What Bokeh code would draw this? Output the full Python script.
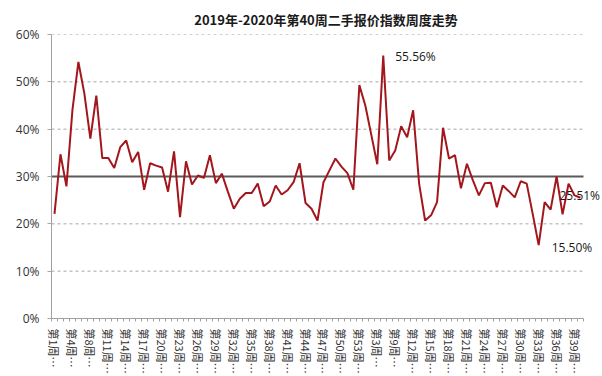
import numpy as np
from bokeh.plotting import figure
from bokeh.models import (Range1d, FixedTicker, PrintfTickFormatter, Label,
                          ColumnDataSource)
from bokeh.embed import file_html
from bokeh.resources import INLINE

# ---- data ----
weeks_2019 = [1, 2, 3, 4, 5] + list(range(7, 54))
weeks_2020 = [1, 2, 3, 4, 8] + list(range(9, 41))
index_values = [
    22.1, 34.7, 27.9, 44.0, 54.2, 47.5, 38.0, 47.1, 33.9, 33.9,
    31.8, 36.2, 37.6, 33.0, 35.2, 27.2, 32.8, 32.3, 31.9, 26.8,
    35.3, 21.4, 33.2, 28.3, 30.2, 29.7, 34.5, 28.6, 30.6, 26.8,
    23.2, 25.3, 26.5, 26.5, 28.5, 23.7, 24.7, 28.1, 26.2, 27.1,
    28.8, 32.8, 24.4, 23.2, 20.7, 28.8, 31.3, 33.8, 32.1, 30.7,
    27.2, 49.3, 45.0, 38.8, 32.6, 55.56, 33.4, 35.5, 40.6, 38.3,
    44.0, 28.5, 20.7, 21.8, 24.6, 40.3, 33.8, 34.5, 27.5, 32.7,
    29.2, 26.0, 28.6, 28.7, 23.5, 28.1, 26.9, 25.6, 29.0, 28.5,
    22.1, 15.50, 24.6, 23.0, 30.0, 22.0, 28.5, 26.0, 25.51,
]
reference_level = 30
y_ticks = [0, 10, 20, 30, 40, 50, 60]
title_text = "2019年-2020年第40周二手报价指数周度走势"

weeks_all = weeks_2019 + weeks_2020
n = len(index_values)
xs = list(range(n))
week_labels = {i: f"第{weeks_all[i]}周…" for i in range(0, n, 3)}

CJK = "Noto Sans CJK SC"
LINE_RED = "#A3161C"
GRID = "#a6a6a6"

# category span is 532 px wide; frame extends 17 px further right so that
# the end-of-series label is not clipped
unit_px = 532 / n
x_end = n - 0.5 + 17 / unit_px

p = figure(frame_width=549, frame_height=284, output_backend="svg",
           toolbar_location=None,
           x_range=Range1d(-0.5, x_end), y_range=Range1d(0, 60),
           min_border_left=51, min_border_right=2, min_border_top=34,
           min_border_bottom=58, background_fill_color="white",
           border_fill_color="white")
p.outline_line_color = None

p.title.text = title_text
p.title.align = "center"
p.title.text_font = CJK
p.title.text_font_size = "13px"
p.title.text_font_style = "bold"
p.title.text_color = "#1a1a1a"
p.title.offset = -25
p.title.standoff = 12

# y axis
p.yaxis.ticker = FixedTicker(ticks=y_ticks)
p.yaxis.formatter = PrintfTickFormatter(format="%d%%")
p.yaxis.axis_line_color = "#a0a0a0"
p.yaxis.major_tick_line_color = GRID
p.yaxis.major_tick_in = 0
p.yaxis.major_tick_out = 4
p.yaxis.minor_tick_line_color = None
p.yaxis.major_label_text_font = "Open Sans"
p.yaxis.major_label_text_font_size = "12px"
p.yaxis.major_label_text_color = "#333333"
p.yaxis.major_label_standoff = 8

# x axis
boundaries = [i - 0.5 for i in range(n + 1)]
p.xaxis.ticker = FixedTicker(ticks=list(week_labels.keys()), minor_ticks=boundaries)
p.xaxis.major_label_overrides = week_labels
p.xaxis.major_label_orientation = "vertical"
p.xaxis.major_label_text_font = CJK
p.xaxis.major_label_text_font_size = "11px"
p.xaxis.major_label_text_color = "#333333"
p.xaxis.major_label_standoff = 4
p.xaxis.axis_line_color = "#a0a0a0"
p.xaxis.bounds = (-0.5, n - 0.5)
p.xaxis.major_tick_line_color = None
p.xaxis.minor_tick_line_color = "#a0a0a0"
p.xaxis.minor_tick_in = 0
p.xaxis.minor_tick_out = 3

# grid drawn over the category span only
p.xgrid.grid_line_color = None
p.ygrid.grid_line_color = None
grid_levels = [t for t in y_ticks if t not in (0, reference_level)]
p.segment(x0=[-0.5] * len(grid_levels), x1=[n - 0.5] * len(grid_levels),
          y0=grid_levels, y1=grid_levels, line_color=GRID, line_dash="3 3",
          line_width=1)

# reference line at 30%
p.segment(x0=[-0.5], x1=[n - 0.5], y0=[reference_level], y1=[reference_level],
          line_color="#5a5a5a", line_width=2)

src = ColumnDataSource(dict(x=xs, y=index_values))
p.line("x", "y", source=src, line_color=LINE_RED, line_width=2)

# annotations: max, min, last
vals = np.array(index_values)
i_max = int(np.argmax(vals))
i_min = int(np.argmin(vals))
i_last = n - 1
for i, dx, dy in [(i_max, 12, -1), (i_min, 13, -2), (i_last, -21, 2)]:
    p.add_layout(Label(x=i, y=index_values[i], x_offset=dx, y_offset=dy,
                       text=f"{index_values[i]:.2f}%", text_font="Open Sans",
                       text_font_size="12px", text_color="#1a1a1a",
                       text_baseline="middle", text_align="left"))

open("out.html", "w").write(file_html(p, INLINE))
